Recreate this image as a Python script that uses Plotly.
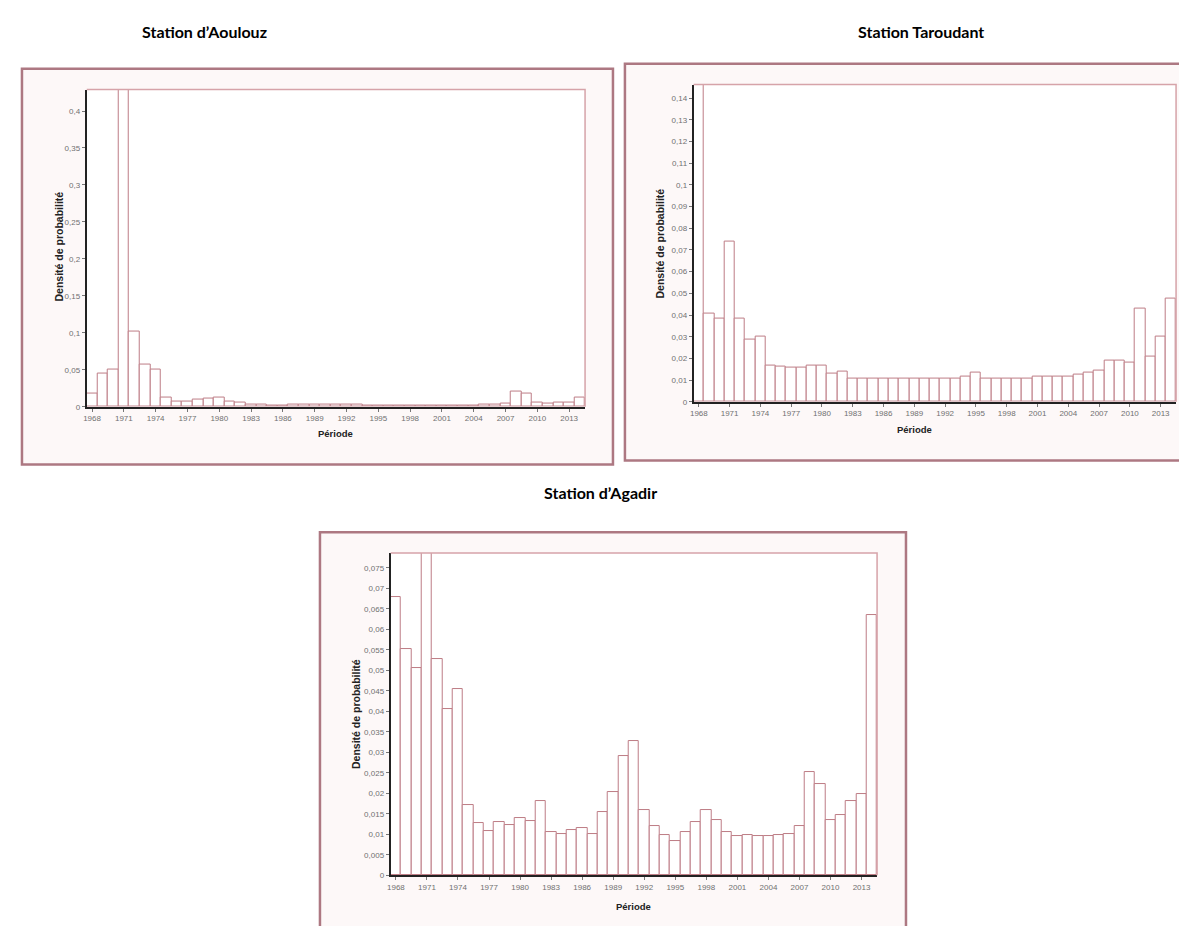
import plotly.graph_objects as go

W, H = 1187, 926

years = list(range(1968, 2015))
year_ticks = list(range(1968, 2014, 3))
year_ticktext = [str(y) for y in year_ticks]

# Station d'Aoulouz (1971 bar exceeds the visible axis range)
aoulouz = [0.018, 0.045, 0.050, 0.46, 0.102, 0.057, 0.051, 0.013, 0.007, 0.007,
           0.010, 0.011, 0.012, 0.007, 0.006, 0.003, 0.003, 0.002, 0.002, 0.003,
           0.003, 0.003, 0.003, 0.003, 0.003, 0.003, 0.002, 0.002, 0.002, 0.002,
           0.002, 0.002, 0.002, 0.002, 0.002, 0.002, 0.002, 0.003, 0.003, 0.005,
           0.020, 0.018, 0.006, 0.004, 0.006, 0.006, 0.013]

# Station Taroudant (1968 bar exceeds the visible axis range)
taroudant = [0.155, 0.0405, 0.0385, 0.074, 0.0385, 0.0286, 0.030, 0.0165, 0.0164, 0.0156,
             0.0156, 0.0165, 0.0165, 0.013, 0.014, 0.0105, 0.0105, 0.0105, 0.0105, 0.0105,
             0.0105, 0.0105, 0.0105, 0.0105, 0.0105, 0.0105, 0.0118, 0.0135, 0.0107, 0.0107,
             0.0107, 0.0107, 0.0107, 0.0118, 0.0118, 0.0118, 0.0118, 0.0125, 0.0135, 0.0145,
             0.0188, 0.0188, 0.018, 0.0428, 0.021, 0.030, 0.0477]

# Station d'Agadir (1971 bar exceeds the visible axis range)
agadir = [0.0679, 0.0551, 0.0506, 0.085, 0.0527, 0.0405, 0.0454, 0.0172, 0.0127, 0.0107,
          0.0131, 0.0123, 0.0139, 0.0133, 0.018, 0.0105, 0.0100, 0.0111, 0.0115, 0.0100,
          0.0154, 0.0203, 0.0292, 0.0328, 0.0158, 0.0119, 0.0099, 0.0083, 0.0105, 0.013,
          0.016, 0.0134, 0.0105, 0.0095, 0.0097, 0.0095, 0.0095, 0.0097, 0.0101, 0.0119,
          0.0251, 0.0223, 0.0135, 0.0148, 0.018, 0.0199, 0.0634]

titles = ["Station d\u2019Aoulouz", "Station Taroudant", "Station d\u2019Agadir"]
ytitle = "Densit\u00e9 de probabilit\u00e9"
xtitle = "P\u00e9riode"


def px(x):
    return x / W


def py(y):
    return 1 - y / H


panels = [
    # plot box (l, t, r, b), frame box, ymax, dtick, title pos, ytitle pos, xtitle pos
    dict(data=aoulouz, plot=(75, 82, 575, 401), frame=(10, 61, 603, 459),
         ymax=0.429, dtick=0.05, tpos=(193, 24), ypos=(47, 240), xpos=(325, 428)),
    dict(data=taroudant, plot=(684, 77, 1168, 396), frame=(615, 56, 1181, 455),
         ymax=0.1462, dtick=0.01, tpos=(912, 24), ypos=(650, 237), xpos=(906, 424)),
    dict(data=agadir, plot=(380, 548, 868, 872), frame=(309, 527, 897, 940),
         ymax=0.0786, dtick=0.005, tpos=(590, 487), ypos=(345, 710), xpos=(624, 903)),
]

fig = go.Figure()
shapes = []
annotations = []
tick_font = dict(family="Liberation Sans, Arial, sans-serif", size=8, color="#707070")

for i, p in enumerate(panels):
    n = "" if i == 0 else str(i + 1)
    l, t, r, b = p["plot"]
    fig.add_trace(go.Bar(
        x=years, y=p["data"], width=1, xaxis="x" + n, yaxis="y" + n,
        marker=dict(color="white", line=dict(color="#bd7c85", width=1)),
        showlegend=False, hoverinfo="x+y",
    ))
    fig.layout["xaxis" + n] = dict(
        domain=[px(l), px(r)], anchor="y" + n, range=[1967.5, 2014.5],
        tickvals=year_ticks, ticktext=year_ticktext, tickfont=tick_font,
        ticks="outside", ticklen=3, tickcolor="#777", showgrid=False, zeroline=False,
        showline=True, linecolor="#222", linewidth=2, fixedrange=True,
    )
    fig.layout["yaxis" + n] = dict(
        domain=[py(b), py(t)], anchor="x" + n, range=[0, p["ymax"]],
        dtick=p["dtick"], tick0=0, tickfont=tick_font,
        ticks="outside", ticklen=3, tickcolor="#777", showgrid=False, zeroline=False,
        showline=True, linecolor="#222", linewidth=2, fixedrange=True,
    )
    fl, ft, fr, fb = p["frame"]
    shapes.append(dict(type="rect", xref="paper", yref="paper", layer="below",
                       x0=px(fl), x1=px(fr), y0=py(fb), y1=py(ft),
                       fillcolor="#fdf8f8", line=dict(color="#ad7882", width=2.5)))
    shapes.append(dict(type="rect", xref="paper", yref="paper", layer="below",
                       x0=px(l), x1=px(r), y0=py(b), y1=py(t),
                       fillcolor="white", line=dict(width=0)))
    # reddish top and right plot border
    shapes.append(dict(type="path", xref="paper", yref="paper", layer="above",
                       path=f"M {px(l)},{py(t)} L {px(r)},{py(t)} L {px(r)},{py(b)}",
                       line=dict(color="#d6a3a9", width=1.5)))
    annotations.append(dict(text="<b>" + titles[i] + "</b>", xref="paper", yref="paper",
                            x=px(p["tpos"][0]), y=py(p["tpos"][1]), showarrow=False,
                            xanchor="center", yanchor="middle",
                            font=dict(family="Lato, Open Sans, sans-serif", size=16, color="black")))
    annotations.append(dict(text="<b>" + ytitle + "</b>", xref="paper", yref="paper",
                            x=px(p["ypos"][0]), y=py(p["ypos"][1]), showarrow=False,
                            textangle=-90, xanchor="center", yanchor="middle",
                            font=dict(family="Liberation Sans, Arial, sans-serif", size=10.5, color="#222")))
    annotations.append(dict(text="<b>" + xtitle + "</b>", xref="paper", yref="paper",
                            x=px(p["xpos"][0]), y=py(p["xpos"][1]), showarrow=False,
                            xanchor="center", yanchor="middle",
                            font=dict(family="Liberation Sans, Arial, sans-serif", size=9.5, color="#222")))

fig.update_layout(
    width=W, height=H, margin=dict(l=0, r=0, t=0, b=0),
    paper_bgcolor="white", plot_bgcolor="rgba(0,0,0,0)",
    separators=", ", bargap=0, shapes=shapes, annotations=annotations,
    showlegend=False,
)

fig.write_html("out.html")
